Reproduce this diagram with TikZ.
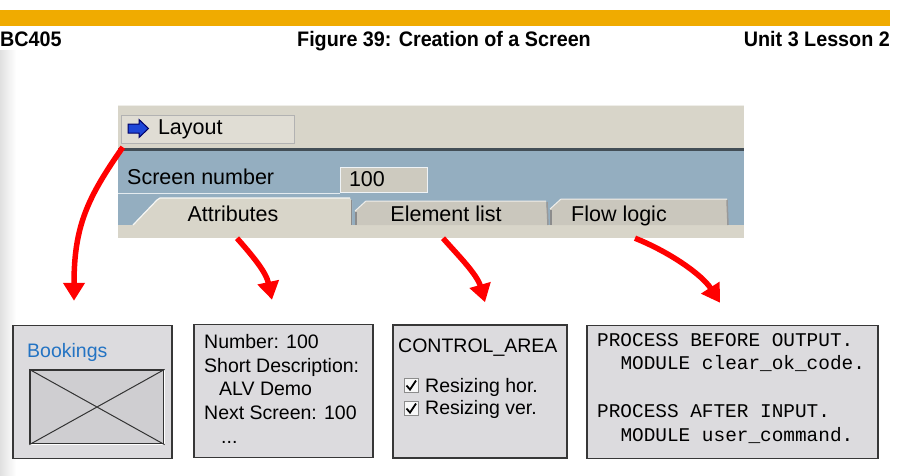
\documentclass[tikz,border=0pt]{standalone}
\usepackage{fontspec}
\setmainfont{Liberation Sans}
\setmonofont{Liberation Mono}
\usetikzlibrary{arrows.meta}
\definecolor{sapgold}{RGB}{240,171,0}
\definecolor{panelbeige}{RGB}{216,213,201}
\definecolor{panelblue}{RGB}{148,174,192}
\definecolor{tabgray}{RGB}{202,199,189}
\definecolor{boxgray}{RGB}{220,219,222}
\definecolor{boxline}{RGB}{55,55,55}
\definecolor{linkblue}{RGB}{35,115,195}
\definecolor{iconblue}{RGB}{30,70,215}
\newcommand{\headtxt}[1]{\scalebox{0.94}[1]{#1}}
\begin{document}
\begin{tikzpicture}[x=1pt,y=-1pt,
    lbl/.style={inner sep=0pt,font=\fontsize{19.5}{23.8}\selectfont},
    guilbl/.style={inner sep=0pt,font=\fontsize{21.5}{26}\selectfont},
    codelbl/.style={inner sep=0pt,font=\ttfamily\fontsize{19.4}{23.8}\selectfont},
    headlbl/.style={inner sep=0pt,font=\bfseries\fontsize{21}{24}\selectfont},
    card/.style={draw=boxline,line width=1.5pt,fill=boxgray,inner sep=0pt,minimum height=133pt},
    chkbox/.style={draw=black!45,fill=white!80!boxgray,line width=1pt,minimum size=14pt,inner sep=0pt},
    redarrow/.style={draw=red,line width=5.5pt,-{Triangle[width=21pt,length=18pt]}}]
  \useasboundingbox (0,0) rectangle (907,475);
  \fill[white] (0,0) rectangle (907,475);
  \shade[left color=black!12,right color=white] (0,50) rectangle (16,475);

  \fill[sapgold] (0,10) rectangle (890,26);
  \node[headlbl,anchor=base west] (course) at (0,46) {\headtxt{BC405}};
  \node[headlbl,anchor=base] (figtitle) at (444,46) {\headtxt{Figure 39: Creation of a Screen}};
  \node[headlbl,anchor=base east] (unitlbl) at (890,46) {\headtxt{Unit 3 Lesson 2}};

  \node[fill=panelbeige,minimum width=626pt,minimum height=133pt,inner sep=0pt] (panel) at (431,171.5) {};
  \draw[white!60!panelbeige,line width=1pt] (118,105.5) -- (744,105.5);
  \fill[black!55!panelblue] (118,148) rectangle (744,151);
  \fill[panelblue] (118,151) rectangle (744,225);
  \draw[white!75!panelblue,line width=1pt] (118,193.5) -- (340,193.5);

  \node[draw=black!30,fill=panelbeige!80!white,minimum width=173pt,minimum height=28pt,
    text width=173pt,align=left,inner sep=0pt,font=\fontsize{21.5}{26}\selectfont]
    (layout) at (207.5,129) {\hspace*{37pt}Layout};
  \fill[iconblue,draw=black!60!blue,line width=1pt] (128,124) -- (139,124) -- (139,119.5)
    -- (148.5,128.5) -- (139,137.5) -- (139,133) -- (128,133) -- cycle;

  \node[guilbl,anchor=base west] (scrnolbl) at (127,184.5) {Screen number};
  \node[draw=white!85!panelblue,fill=black!5!panelbeige,line width=1pt,minimum width=87pt,
    minimum height=25pt,text width=87pt,align=left,inner sep=0pt,font=\fontsize{21.5}{26}\selectfont]
    (scrnofield) at (383.5,179.5) {\hspace*{9pt}100};

  \fill[tabgray] (355,225) -- (355,211) -- (366,201) -- (546,201) -- (548,225) -- cycle;
  \draw[white!70!tabgray,line width=1pt] (355,211) -- (366,201) -- (546,201);
  \draw[black!45,line width=2.5pt] (356,212) -- (356,225);
  \draw[black!40,line width=1.5pt] (547,202) -- (548,225);
  \fill[tabgray] (550,225) -- (550,209) -- (561,199) -- (727,199) -- (728,225) -- cycle;
  \draw[white!70!tabgray,line width=1pt] (550,209) -- (561,199) -- (727,199);
  \draw[black!45,line width=2.5pt] (551,210) -- (551,225);
  \draw[black!40,line width=1.5pt] (727,200) -- (728,225);
  \fill[panelbeige] (133,225) -- (157,200) -- (160,198) -- (350,198) -- (352,201) -- (352,225) -- cycle;
  \draw[white!80!panelbeige,line width=1.2pt] (133,225) -- (157,200) -- (160,198) -- (350,198);
  \draw[black!45,line width=1.5pt] (351.5,200) -- (351.5,225);

  \node[guilbl,anchor=base] (attrtab) at (233,221) {Attributes};
  \node[guilbl,anchor=base] (elemtab) at (446,221) {Element list};
  \node[guilbl,anchor=base] (flowtab) at (619,221) {Flow logic};

  \node[card,minimum width=159pt] (bookbox) at (92.5,392) {};
  \node[card,minimum width=179pt] (attrbox) at (283.5,391) {};
  \node[card,minimum width=174pt] (elembox) at (480,391.5) {};
  \node[card,minimum width=291pt] (flowbox) at (732.5,392) {};

  \node[lbl,anchor=base west,text=linkblue] (bookings) at (27,357) {Bookings};
  \node[draw=black!80,fill=black!6!boxgray,line width=1.3pt,minimum width=134pt,
    minimum height=74pt,inner sep=0pt] (preview) at (97,407) {};
  \draw[white,line width=1.5pt] (preview.north east) -- (preview.south east) -- (preview.south west);
  \draw[black!80,line width=1pt] (preview.north west) -- (preview.south east)
    (preview.south west) -- (preview.north east);

  \node[lbl,anchor=north west,align=left] (attrtext) at (204,334)
    {Number: 100\\Short Description:\\\hspace*{15pt}ALV Demo\\Next Screen: 100\\\hspace*{17pt}...};

  \node[lbl,anchor=base west] (ctrlarea) at (398,352) {CONTROL\_AREA};
  \node[chkbox] (chkhor) at (411.5,385.5) {};
  \node[chkbox] (chkver) at (411.5,408.5) {};
  \draw[line width=1.8pt] (406.5,385.5) -- (410,389.5) -- (416,380.5);
  \draw[line width=1.8pt] (406.5,408.5) -- (410,412.5) -- (416,403.5);
  \node[lbl,anchor=base west] (rszhor) at (425,392) {Resizing hor.};
  \node[lbl,anchor=base west] (rszver) at (425,414) {Resizing ver.};

  \node[codelbl,anchor=north west,align=left] (flowtext) at (597,333)
    {PROCESS BEFORE OUTPUT.\\\hspace*{23.3pt}MODULE clear\_ok\_code.\\[23.8pt]
     PROCESS AFTER INPUT.\\\hspace*{23.3pt}MODULE user\_command.};

  \draw[redarrow] ([shift={(2pt,-4pt)}]layout.south west) .. controls +(-35,50) and +(0,-75) ..
    ([xshift=-18.5pt,yshift=24pt]bookbox.north);
  \draw[redarrow] ([xshift=4pt]attrtab |- panel.south) .. controls +(15,17) and +(-6,-28) ..
    ([xshift=-11.5pt,yshift=24pt]attrbox.north);
  \draw[redarrow] ([xshift=-3pt]elemtab |- panel.south) .. controls +(15,17) and +(-8,-28) ..
    ([xshift=5pt,yshift=22pt]elembox.north);
  \draw[redarrow] ([xshift=16pt]flowtab |- panel.south) .. controls +(35,14) and +(-18,-28) ..
    ([xshift=-12.5pt,yshift=22pt]flowbox.north);
\end{tikzpicture}
\end{document}
